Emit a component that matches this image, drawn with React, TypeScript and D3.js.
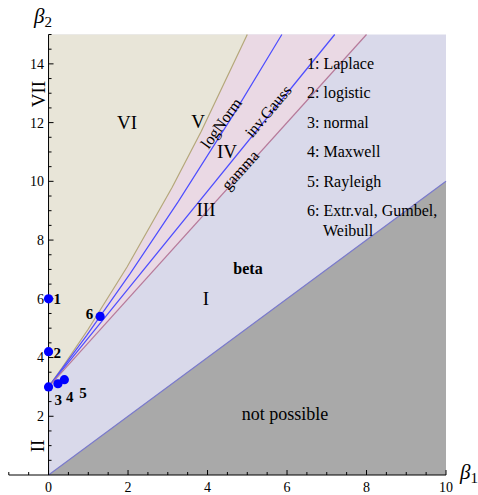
import React from 'react';
import * as d3 from 'd3';

// Pearson (beta1, beta2) plane
const xTicks = [0, 2, 4, 6, 8, 10];
const yTicks = [2, 4, 6, 8, 10, 12, 14];

const lowerBound: [number, number][] = [[0, 0], [10, 10]];
const gammaLine: [number, number][] = [[0, 3], [8, 15]];
const invGaussLine: [number, number][] = [[0, 3], [7.2, 15]];
const logNormCurve: [number, number][] = [[0, 3], [0.961, 4.756], [2.048, 6.85], [3.267, 9.32], [4.624, 12.21], [5.87, 15]];
const typeVCurve: [number, number][] = [[0, 3], [0.348, 3.663], [0.997, 4.963], [1.975, 7.083], [3.111, 9.8], [3.84, 11.7], [5, 15]];

const dists = [
  { id: '1', b1: 0, b2: 6, dx: 5, dy: 5, anchor: 'start' },
  { id: '2', b1: 0, b2: 4.2, dx: 5, dy: 6, anchor: 'start' },
  { id: '3', b1: 0, b2: 3, dx: 6, dy: 18, anchor: 'start' },
  { id: '4', b1: 0.236, b2: 3.108, dx: 8, dy: 18, anchor: 'start' },
  { id: '5', b1: 0.398, b2: 3.245, dx: 15, dy: 18, anchor: 'start' },
  { id: '6', b1: 1.2986, b2: 5.4, dx: -7, dy: 3, anchor: 'end' },
];

const legendItems = ['1: Laplace', '2: logistic', '3: normal', '4: Maxwell', '5: Rayleigh', '6: Extr.val, Gumbel,'];

const W = 478;
const H = 495;
const font = '"Liberation Serif", "DejaVu Serif", serif';

export default function App() {
  const x = d3.scaleLinear().domain([-1, 10]).range([8.8, 446]);
  const y = d3.scaleLinear().domain([0, 15]).range([475, 34.5]);
  const line = d3.line<[number, number]>().x(d => x(d[0])).y(d => y(d[1]));

  const top = 15;
  // regions
  const yellow = line([...typeVCurve, [0, top]])! + 'Z';
  const pink = line([...typeVCurve, ...gammaLine.slice().reverse()])! + 'Z';
  const gray = line([...lowerBound, [10, 0]])! + 'Z';

  const xMinor = d3.range(-1, 10.01, 0.5);
  const yMinor = d3.range(0.5, 15.01, 0.5);

  const rot = (d: [number, number], a: number) => `translate(${d[0]},${d[1]}) rotate(${a})`;

  return (
    <svg width={W} height={H} style={{ position: 'absolute', left: 0, top: 0, fontFamily: font }}>
      <rect x={x(0)} y={y(top)} width={x(10) - x(0)} height={y(0) - y(top)} fill="#d9d9ea" />
      <path d={yellow} fill="#e8e5d8" />
      <path d={pink} fill="#ead9e4" />
      <path d={gray} fill="#a9a9a9" />

      <path d={line(typeVCurve)!} fill="none" stroke="#b5a87a" strokeWidth={1.2} />
      <path d={line(logNormCurve)!} fill="none" stroke="#4d4dff" strokeWidth={1.2} />
      <path d={line(invGaussLine)!} fill="none" stroke="#4d4dff" strokeWidth={1.2} />
      <path d={line(gammaLine)!} fill="none" stroke="#b77a9a" strokeWidth={1.2} />
      <path d={line(lowerBound)!} fill="none" stroke="#7a7acc" strokeWidth={1.2} />

      {/* axes */}
      <line x1={x(-1)} x2={x(10)} y1={y(0)} y2={y(0)} stroke="#000" />
      <line x1={x(0)} x2={x(0)} y1={y(0)} y2={y(top)} stroke="#000" />
      {xMinor.map(v => (
        <line key={'xt' + v} x1={x(v)} x2={x(v)} y1={y(0)} y2={y(0) - (v % 2 === 0 ? 5 : 3)} stroke="#000" />
      ))}
      {yMinor.map(v => (
        <line key={'yt' + v} x1={x(0)} x2={x(0) + (v % 2 === 0 ? 5 : 3)} y1={y(v)} y2={y(v)} stroke="#000" />
      ))}
      {xTicks.map(v => (
        <text key={'xl' + v} x={x(v)} y={492} textAnchor="middle" fontSize={14}>{v}</text>
      ))}
      {yTicks.map(v => (
        <text key={'yl' + v} x={44} y={y(v)} dy="0.35em" textAnchor="end" fontSize={14}>{v}</text>
      ))}
      <text x={34} y={23} fontSize={21} fontStyle="italic">β<tspan fontSize={15} fontStyle="normal" dy={4}>2</tspan></text>
      <text x={460} y={479} fontSize={21} fontStyle="italic">β<tspan fontSize={15} fontStyle="normal" dy={4}>1</tspan></text>

      {/* region names */}
      <g fontSize={19}>
        <text transform={rot([38, 94], -90)} textAnchor="middle" dy="0.35em">VII</text>
        <text transform={rot([37, 446], -90)} textAnchor="middle" dy="0.35em">II</text>
        <text x={127} y={129} textAnchor="middle">VI</text>
        <text x={198} y={128} textAnchor="middle">V</text>
        <text x={227} y={158} textAnchor="middle">IV</text>
        <text x={206} y={216} textAnchor="middle">III</text>
        <text x={206} y={305} textAnchor="middle">I</text>
      </g>
      <g fontSize={16}>
        <text transform={rot([221, 123], -54)} textAnchor="middle" dy="0.35em">logNorm</text>
        <text transform={rot([268, 111], -50)} textAnchor="middle" dy="0.35em">inv.Gauss</text>
        <text transform={rot([240, 170], -48)} textAnchor="middle" dy="0.35em">gamma</text>
      </g>
      <text x={248} y={274} textAnchor="middle" fontSize={16} fontWeight="bold">beta</text>
      <text x={285} y={420} textAnchor="middle" fontSize={18}>not possible</text>

      {/* distributions */}
      {dists.map(d => (
        <g key={d.id}>
          <circle cx={x(d.b1)} cy={y(d.b2)} r={4.6} fill="#0000ff" />
          <text x={x(d.b1) + d.dx} y={y(d.b2) + d.dy} textAnchor={d.anchor} fontSize={15} fontWeight="bold">{d.id}</text>
        </g>
      ))}

      {/* legend */}
      <g fontSize={16}>
        {legendItems.map((t, i) => (
          <text key={t} x={307} y={69 + i * 29.4}>{t}</text>
        ))}
        <text x={323} y={236}>Weibull</text>
      </g>
    </svg>
  );
}
